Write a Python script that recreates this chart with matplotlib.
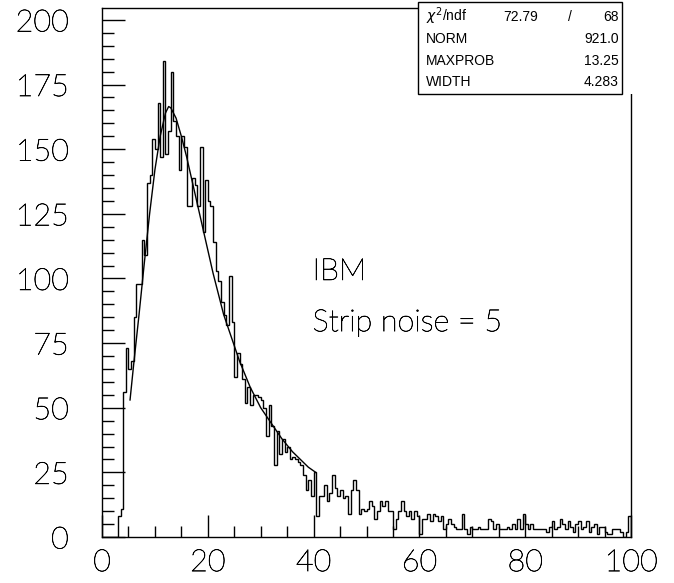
import numpy as np
import matplotlib
matplotlib.use('Agg')
import matplotlib.pyplot as plt
import matplotlib.patheffects as pe
from matplotlib.patches import Rectangle
from matplotlib.ticker import MultipleLocator

# histogram contents, 200 bins of 0.5 from 0 to 100
counts = [0, 0, 0, 0, 0, 0, 8, 11, 56, 73,
          65, 68, 85, 98, 98, 115, 109, 137, 140, 154,
          150, 168, 147, 184, 148, 157, 180, 161, 155, 142,
          155, 151, 128, 128, 139, 136, 128, 151, 118, 138,
          130, 128, 114, 103, 99, 91, 86, 82, 101, 83,
          62, 71, 67, 61, 52, 58, 51, 55, 55, 54,
          53, 50, 39, 51, 43, 28, 41, 32, 38, 33,
          35, 30, 31, 30, 29, 28, 24, 18, 22, 16,
          25, 8, 16, 16, 20, 14, 17, 24, 19, 16,
          18, 15, 16, 9, 18, 22, 18, 9, 11, 10,
          11, 14, 12, 7, 10, 14, 12, 14, 10, 10,
          3, 7, 10, 14, 10, 8, 10, 7, 10, 8,
          1, 7, 7, 9, 6, 9, 8, 6, 8, 3,
          5, 7, 5, 4, 3, 3, 9, 3, 1, 4,
          3, 3, 4, 3, 3, 3, 7, 6, 3, 5,
          3, 3, 3, 4, 3, 5, 3, 7, 3, 9,
          5, 3, 5, 3, 3, 3, 3, 3, 2, 4,
          6, 3, 4, 7, 5, 3, 6, 4, 2, 5,
          6, 3, 4, 6, 2, 4, 5, 1, 4, 4,
          2, 1, 1, 3, 3, 3, 2, 0, 2, 8]
edges = np.linspace(0, 100, len(counts) + 1)

# fitted landau curve
fit_x = [5.3, 6, 7, 8, 9, 10, 11, 12, 12.6, 13, 14, 15, 16, 17, 18, 19, 20,
         21, 22, 23, 24, 25, 26, 27, 28, 29, 30, 31, 32, 33, 34, 35, 36, 37,
         38, 39, 40.4]
fit_y = [53, 67, 86, 106, 125, 142, 155, 164, 166.5, 166, 162, 155, 147, 138,
         129, 120, 111, 102, 94, 86, 80, 74, 68, 63, 58, 54, 50, 47, 44, 41,
         38, 35.5, 33, 31, 29, 27, 25]

stat_names = [r'$\chi^2$/ndf', 'NORM', 'MAXPROB', 'WIDTH']
stat_vals = ['68', '921.0', '13.25', '4.283']
chi2 = '72.79'

W, H = 674, 583
thin = dict(family=['Lato', 'DejaVu Sans'], fontweight='light', color='black',
            path_effects=[pe.withStroke(linewidth=0.45, foreground='black')])

fig = plt.figure(figsize=(W / 100, H / 100), dpi=100)
ax = fig.add_axes([102 / W, 1 - 537 / H, (631 - 102) / W, (537 - 8) / H])

ax.stairs(counts, edges, color='black', lw=1.0)
ax.plot(fit_x, fit_y, color='black', lw=1.0)

ax.set_xlim(0, 100)
ax.set_ylim(0, 204.6)
ax.xaxis.set_major_locator(MultipleLocator(20))
ax.xaxis.set_minor_locator(MultipleLocator(5))
ax.yaxis.set_major_locator(MultipleLocator(25))
ax.yaxis.set_minor_locator(MultipleLocator(5))
ax.tick_params(which='both', direction='in', top=False, right=False, width=1)
ax.tick_params(axis='y', which='major', length=16.5, pad=24)
ax.tick_params(axis='y', which='minor', length=8.5)
ax.tick_params(axis='x', which='major', length=16, pad=8)
ax.tick_params(axis='x', which='minor', length=8)
for lab in ax.get_xticklabels() + ax.get_yticklabels():
    lab.set_fontsize(22)
    lab.set(**thin)
for s in ax.spines.values():
    s.set_linewidth(1.0)

ax.text(39.8, 99.4, 'IBM', fontsize=22, va='baseline', **thin)
ax.text(39.8, 79.6, 'Strip noise = 5', fontsize=22, va='baseline', **thin)

# stats box
def fx(px):
    return px / W

def fy(py):
    return 1 - py / H

fig.add_artist(Rectangle((fx(418), fy(94)), fx(634) - fx(418), fy(0) - fy(94),
                         transform=fig.transFigure, facecolor='white',
                         edgecolor='none', zorder=5))
fig.add_artist(Rectangle((fx(418), fy(94)), fx(622) - fx(418), fy(2) - fy(94),
                         transform=fig.transFigure, facecolor='none',
                         edgecolor='black', lw=1.0, zorder=6))
box_font = dict(fontsize=10, va='baseline', zorder=7, family=['Liberation Sans', 'DejaVu Sans'])
rows = [21, 43, 65, 86]
for name, val, row in zip(stat_names, stat_vals, rows):
    fig.text(fx(426), fy(row), name, **box_font)
    fig.text(fx(619), fy(row), val, ha='right', **box_font)
fig.text(fx(538), fy(rows[0]), chi2, ha='right', **box_font)
fig.text(fx(570), fy(rows[0]), '/', ha='center', **box_font)

fig.savefig('out.png', dpi=100)
